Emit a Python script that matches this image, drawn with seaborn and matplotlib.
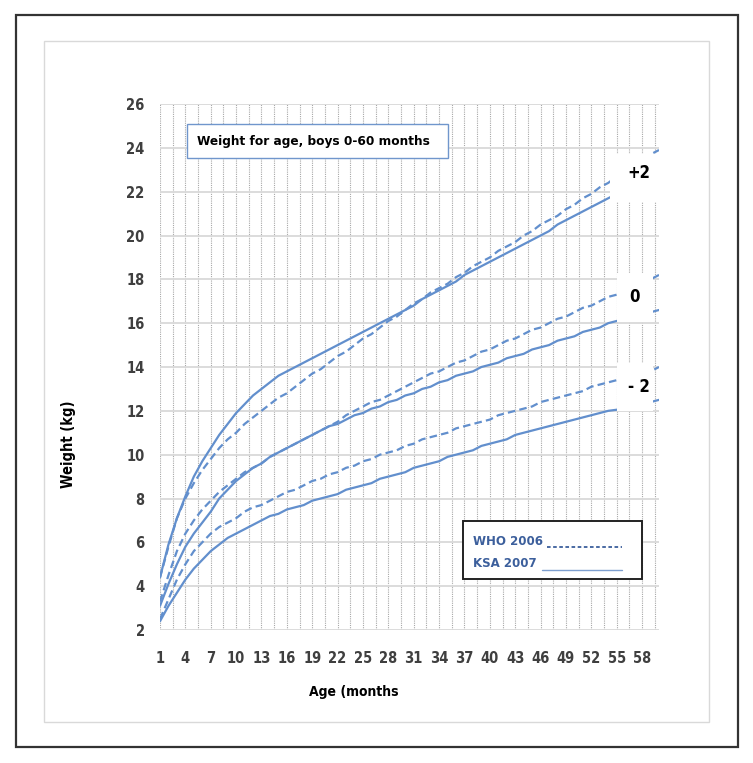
import numpy as np
import pandas as pd
import matplotlib
matplotlib.use("Agg")
import matplotlib.pyplot as plt
import seaborn as sns
from matplotlib import font_manager
from matplotlib.patches import Rectangle
from matplotlib.lines import Line2D

# ---------------- data ----------------
months = list(range(1, 61))

who_p2 = [4.4, 5.8, 7.1, 8.0, 8.7, 9.3, 9.8, 10.3, 10.7, 11.0,
          11.4, 11.7, 12.0, 12.3, 12.6, 12.8, 13.1, 13.4, 13.7, 13.9,
          14.2, 14.5, 14.7, 15.0, 15.3, 15.5, 15.8, 16.1, 16.3, 16.6,
          16.9, 17.1, 17.4, 17.6, 17.8, 18.1, 18.3, 18.6, 18.8, 19.0,
          19.3, 19.5, 19.7, 20.0, 20.2, 20.5, 20.7, 20.9, 21.2, 21.4,
          21.7, 21.9, 22.2, 22.4, 22.7, 22.9, 23.2, 23.4, 23.7, 23.9]
who_0 = [3.3, 4.5, 5.6, 6.4, 7.0, 7.5, 7.9, 8.3, 8.6, 8.9,
         9.2, 9.4, 9.6, 9.9, 10.1, 10.3, 10.5, 10.7, 10.9, 11.1,
         11.3, 11.5, 11.8, 12.0, 12.2, 12.4, 12.5, 12.7, 12.9, 13.1,
         13.3, 13.5, 13.7, 13.8, 14.0, 14.2, 14.3, 14.5, 14.7, 14.8,
         15.0, 15.2, 15.3, 15.5, 15.7, 15.8, 16.0, 16.2, 16.3, 16.5,
         16.7, 16.8, 17.0, 17.2, 17.3, 17.5, 17.7, 17.8, 18.0, 18.2]
who_m2 = [2.5, 3.4, 4.3, 5.0, 5.6, 6.0, 6.4, 6.7, 6.9, 7.1,
          7.4, 7.6, 7.7, 7.9, 8.1, 8.3, 8.4, 8.6, 8.8, 8.9,
          9.1, 9.2, 9.4, 9.5, 9.7, 9.8, 10.0, 10.1, 10.2, 10.4,
          10.5, 10.7, 10.8, 10.9, 11.0, 11.2, 11.3, 11.4, 11.5, 11.6,
          11.8, 11.9, 12.0, 12.1, 12.2, 12.4, 12.5, 12.6, 12.7, 12.8,
          12.9, 13.1, 13.2, 13.3, 13.4, 13.5, 13.6, 13.7, 13.8, 14.0]

ksa_p2 = [4.4, 5.9, 7.1, 8.1, 9.0, 9.7, 10.3, 10.9, 11.4, 11.9,
          12.3, 12.7, 13.0, 13.3, 13.6, 13.8, 14.0, 14.2, 14.4, 14.6,
          14.8, 15.0, 15.2, 15.4, 15.6, 15.8, 16.0, 16.2, 16.4, 16.6,
          16.8, 17.1, 17.3, 17.5, 17.7, 17.9, 18.2, 18.4, 18.6, 18.8,
          19.0, 19.2, 19.4, 19.6, 19.8, 20.0, 20.2, 20.5, 20.7, 20.9,
          21.1, 21.3, 21.5, 21.7, 21.9, 22.1, 22.3, 22.5, 22.7, 22.9]
ksa_0 = [3.1, 4.1, 5.0, 5.8, 6.4, 6.9, 7.4, 8.0, 8.4, 8.8,
         9.1, 9.4, 9.6, 9.9, 10.1, 10.3, 10.5, 10.7, 10.9, 11.1,
         11.3, 11.4, 11.6, 11.8, 11.9, 12.1, 12.2, 12.4, 12.5, 12.7,
         12.8, 13.0, 13.1, 13.3, 13.4, 13.6, 13.7, 13.8, 14.0, 14.1,
         14.2, 14.4, 14.5, 14.6, 14.8, 14.9, 15.0, 15.2, 15.3, 15.4,
         15.6, 15.7, 15.8, 16.0, 16.1, 16.2, 16.3, 16.4, 16.5, 16.6]
ksa_m2 = [2.4, 3.1, 3.7, 4.3, 4.8, 5.2, 5.6, 5.9, 6.2, 6.4,
          6.6, 6.8, 7.0, 7.2, 7.3, 7.5, 7.6, 7.7, 7.9, 8.0,
          8.1, 8.2, 8.4, 8.5, 8.6, 8.7, 8.9, 9.0, 9.1, 9.2,
          9.4, 9.5, 9.6, 9.7, 9.9, 10.0, 10.1, 10.2, 10.4, 10.5,
          10.6, 10.7, 10.9, 11.0, 11.1, 11.2, 11.3, 11.4, 11.5, 11.6,
          11.7, 11.8, 11.9, 12.0, 12.05, 12.1, 12.2, 12.3, 12.4, 12.5]

x_ticks = list(range(1, 59, 3))
x_tick_labels = [str(m) for m in x_ticks]
y_ticks = list(range(2, 27, 2))
y_tick_labels = [str(v) for v in y_ticks]
z_labels = ["+2", "0", "- 2"]
z_label_pos = [(57.6, 22.85), (57.1, 17.2), (57.6, 13.1)]
title_text = "Weight for age, boys 0-60 months"
legend_labels = ["WHO 2006", "KSA 2007"]
x_title = "Age (months"
y_title = "Weight (kg)"

# ---------------- style ----------------
sns.set_style("white")

# choose a narrow font if one is available
fl = font_manager.fontManager.ttflist
names = {f.name for f in fl}
STRETCH = "normal"
if "Liberation Sans Narrow" in names:
    FAM = "Liberation Sans Narrow"
elif any(f.name == "DejaVu Sans" and f.stretch in ("condensed", 300) for f in fl):
    FAM = "DejaVu Sans"
    STRETCH = "condensed"
elif "Roboto Condensed" in names:
    FAM = "Roboto Condensed"
elif "Roboto" in names:
    FAM = "Roboto"
else:
    FAM = "Liberation Sans"
plt.rcParams["font.family"] = [FAM, "DejaVu Sans"]
plt.rcParams["font.stretch"] = STRETCH

LINE = "#628fcd"
W, H = 753, 763
fig = plt.figure(figsize=(W / 100, H / 100), dpi=100)
fig.patch.set_facecolor("white")


def fx(px):
    return px / W


def fy(py):
    return 1 - py / H


# outer frame and inner border
fig.add_artist(Rectangle((fx(16), fy(747)), fx(738) - fx(16), fy(15) - fy(747),
                         transform=fig.transFigure, fill=False,
                         edgecolor="#333333", lw=1.6))
fig.add_artist(Rectangle((fx(44), fy(722)), fx(709) - fx(44), fy(41) - fy(722),
                         transform=fig.transFigure, fill=False,
                         edgecolor="#d9d9d9", lw=1.0))

L, R, T, B = 160, 659, 104, 630
ax = fig.add_axes([fx(L), fy(B), fx(R) - fx(L), fy(T) - fy(B)])
ax.set_xlim(1, 60)
ax.set_ylim(2, 26)

# ---------------- data frame & lines ----------------
rows = []
for src, lvl, vals in [("WHO 2006", "+2", who_p2), ("WHO 2006", "0", who_0),
                       ("WHO 2006", "-2", who_m2), ("KSA 2007", "+2", ksa_p2),
                       ("KSA 2007", "0", ksa_0), ("KSA 2007", "-2", ksa_m2)]:
    for m, v in zip(months, vals):
        rows.append({"month": m, "weight": v, "source": src, "level": lvl})
df = pd.DataFrame(rows)

for (src, lvl), sub in df.groupby(["source", "level"], sort=False):
    if src.startswith("WHO"):
        sns.lineplot(data=sub, x="month", y="weight", ax=ax, color=LINE,
                     lw=1.6, linestyle=(0, (3.4, 1.9)), zorder=2)
    else:
        sns.lineplot(data=sub, x="month", y="weight", ax=ax, color=LINE,
                     lw=1.6, zorder=2)

# ---------------- axes styling ----------------
for s in ax.spines.values():
    s.set_visible(False)
ax.set_xticks(x_ticks)
ax.set_xticklabels(x_tick_labels)
ax.set_xticks(np.arange(1, 60.01, 1.5), minor=True)
ax.set_yticks(y_ticks)
ax.set_yticklabels(y_tick_labels)
ax.grid(axis="y", which="major", color="#d9d9d9", lw=1.3)
ax.grid(axis="x", which="both", color="#a8a8a8", lw=0.8, linestyle=(0, (1, 1)))
ax.set_axisbelow(True)
ax.tick_params(axis="both", which="both", length=0)
ax.tick_params(axis="y", pad=11)
ax.tick_params(axis="x", pad=15)
for lab in ax.get_xticklabels() + ax.get_yticklabels():
    lab.set_fontweight("bold")
    lab.set_color("#3f3f3f")
    lab.set_fontsize(10.5)
ax.set_xlabel("")
ax.set_ylabel("")

# white label boxes for the z-score labels
ax.add_patch(Rectangle((54.2, 21.55), 7.0, 2.15, facecolor="white",
                       edgecolor="none", zorder=3, clip_on=False))
ax.add_patch(Rectangle((55.0, 16.05), 4.3, 2.25, facecolor="white",
                       edgecolor="none", zorder=3, clip_on=False))
ax.add_patch(Rectangle((55.0, 12.0), 4.3, 2.2, facecolor="white",
                       edgecolor="none", zorder=3, clip_on=False))
for txt, (xx, yy) in zip(z_labels, z_label_pos):
    ax.text(xx, yy, txt, ha="center", va="center", fontsize=12,
            fontweight="bold", color="black", zorder=4)

# title box
ax.add_patch(Rectangle((0.0535, 0.897), 0.5235, 0.065, transform=ax.transAxes,
                       facecolor="white", edgecolor="#7096cc", lw=1.0, zorder=3))
ttl = ax.text(0.074, 0.929, title_text, transform=ax.transAxes, ha="left",
              va="center", fontsize=11, fontweight="bold", color="black", zorder=4)

# legend box
ax.add_patch(Rectangle((0.607, 0.097), 0.359, 0.11, transform=ax.transAxes,
                       facecolor="white", edgecolor="#222222", lw=1.4, zorder=3))
lg1 = ax.text(0.627, 0.169, legend_labels[0], transform=ax.transAxes, ha="left",
              va="center", fontsize=10.5, fontweight="bold", color="#3c5f9c", zorder=4)
lg2 = ax.text(0.627, 0.127, legend_labels[1], transform=ax.transAxes, ha="left",
              va="center", fontsize=10.5, fontweight="bold", color="#3c5f9c", zorder=4)
ax.add_line(Line2D([0.775, 0.925], [0.158, 0.158], transform=ax.transAxes,
                   color="#3c5f9c", lw=1.3, linestyle=(0, (2, 1.4)), zorder=4))
ax.add_line(Line2D([0.765, 0.926], [0.115, 0.115], transform=ax.transAxes,
                   color="#7e9fcf", lw=1.0, zorder=4))

# axis titles
xt = fig.text(fx(354), fy(692), x_title, ha="center", va="center", fontsize=11.5,
              fontweight="bold", color="black")
fig.text(fx(68), fy(444), y_title, ha="center", va="center", fontsize=10.5,
         fontweight="bold", color="black", rotation=90)

# keep text widths near the reference widths (pixels)
fig.canvas.draw()
rend = fig.canvas.get_renderer()
for t, target in [(ttl, 232), (xt, 90)]:
    w = t.get_window_extent(rend).width
    if w > target:
        t.set_fontsize(t.get_fontsize() * target / w)
wl = max(lg1.get_window_extent(rend).width, lg2.get_window_extent(rend).width)
if wl > 70:
    for t in (lg1, lg2):
        t.set_fontsize(t.get_fontsize() * 70 / wl)

fig.savefig("out.png", dpi=100, facecolor="white")
